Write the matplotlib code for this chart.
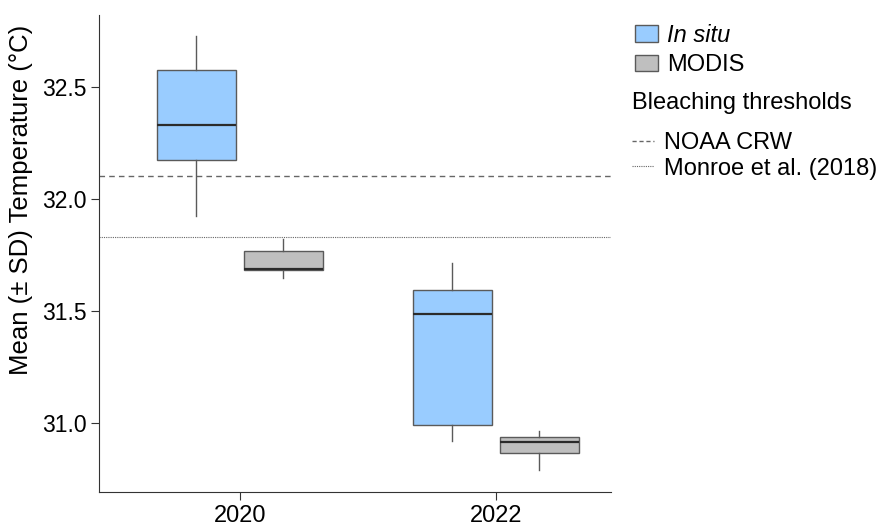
import matplotlib
matplotlib.use("Agg")
import matplotlib.pyplot as plt
from matplotlib.patches import Patch
from matplotlib.lines import Line2D

plt.rcParams['font.family'] = ['Liberation Sans', 'DejaVu Sans']

years = ["2020", "2022"]
series = ["In situ", "MODIS"]
# box statistics per series, per year
insitu_whislo = [31.925, 30.92]
insitu_q1 = [32.175, 30.99]
insitu_med = [32.33, 31.485]
insitu_q3 = [32.575, 31.592]
insitu_whishi = [32.726, 31.712]

modis_whislo = [31.645, 30.789]
modis_q1 = [31.683, 30.866]
modis_med = [31.686, 30.912]
modis_q3 = [31.768, 30.935]
modis_whishi = [31.82, 30.962]

noaa_crw = 32.10
monroe = 31.83

colors = {"In situ": "#99CCFF", "MODIS": "#BFBFBF"}
edge = "#5a5a5a"

fig = plt.figure(figsize=(8.77, 5.25), dpi=100)
ax = fig.add_axes([99 / 877, 33 / 525, 512 / 877, 477 / 525])

def stats(lo, q1, med, q3, hi):
    return [dict(whislo=a, q1=b, med=c, q3=d, whishi=e, fliers=[])
            for a, b, c, d, e in zip(lo, q1, med, q3, hi)]

offset = 0.17
width = 0.31
data = {
    "In situ": stats(insitu_whislo, insitu_q1, insitu_med, insitu_q3, insitu_whishi),
    "MODIS": stats(modis_whislo, modis_q1, modis_med, modis_q3, modis_whishi),
}
for i, s in enumerate(series):
    pos = [j + (-offset if i == 0 else offset) for j in range(len(years))]
    ax.bxp(data[s], positions=pos, widths=width, patch_artist=True,
           showcaps=False, showfliers=False,
           boxprops=dict(facecolor=colors[s], edgecolor=edge, linewidth=1.0),
           whiskerprops=dict(color=edge, linewidth=1.0),
           medianprops=dict(color="#2b2b2b", linewidth=1.6),
           manage_ticks=False, zorder=3)

ax.axhline(noaa_crw, color="#666666", linestyle=(0, (4, 3)), linewidth=1.0, zorder=2)
ax.axhline(monroe, color="#666666", linestyle=(0, (1, 1)), linewidth=0.8, zorder=2)

ax.set_xlim(-0.55, 1.45)
ax.set_ylim(30.69, 32.821)
ax.set_xticks(range(len(years)))
ax.set_xticklabels(years)
ax.set_yticks([31.0, 31.5, 32.0, 32.5])
ax.set_yticklabels(["31.0", "31.5", "32.0", "32.5"])
ax.tick_params(color="#333333", length=6, pad=3)
ax.tick_params(axis="x", labelsize=17)
ax.tick_params(axis="y", labelsize=16.5)
ax.set_ylabel("Mean (± SD) Temperature (°C)", fontsize=18.5)
ax.yaxis.set_label_coords(-0.128, 0.613)
for sp in ["top", "right"]:
    ax.spines[sp].set_visible(False)
for sp in ["left", "bottom"]:
    ax.spines[sp].set_color("#333333")

h1 = [Patch(facecolor=colors["In situ"], edgecolor=edge, label="In situ"),
      Patch(facecolor=colors["MODIS"], edgecolor=edge, label="MODIS")]
leg1 = fig.legend(handles=h1, loc="upper left", bbox_to_anchor=(635 / 877, 1 - 23.5 / 525),
                  frameon=False, fontsize=17, handlelength=0.98, handleheight=0.72,
                  handletextpad=0.38, labelspacing=0.33, borderpad=0, borderaxespad=0)
leg1.get_texts()[0].set_fontstyle("italic")

fig.text(632 / 877, 1 - 108.5 / 525, "Bleaching thresholds", fontsize=17,
         ha="left", va="baseline")

h2 = [Line2D([], [], color="#666666", linestyle=(0, (3, 2)), linewidth=1.0, label="NOAA CRW"),
      Line2D([], [], color="#666666", linestyle=(0, (1, 1)), linewidth=0.8, label="Monroe et al. (2018)")]
leg2 = fig.legend(handles=h2, loc="upper left", bbox_to_anchor=(632 / 877, 1 - 132 / 525),
                  frameon=False, fontsize=17, handlelength=0.95, handletextpad=0.42,
                  labelspacing=0.15, borderpad=0, borderaxespad=0)

fig.savefig("out.png", dpi=100)
